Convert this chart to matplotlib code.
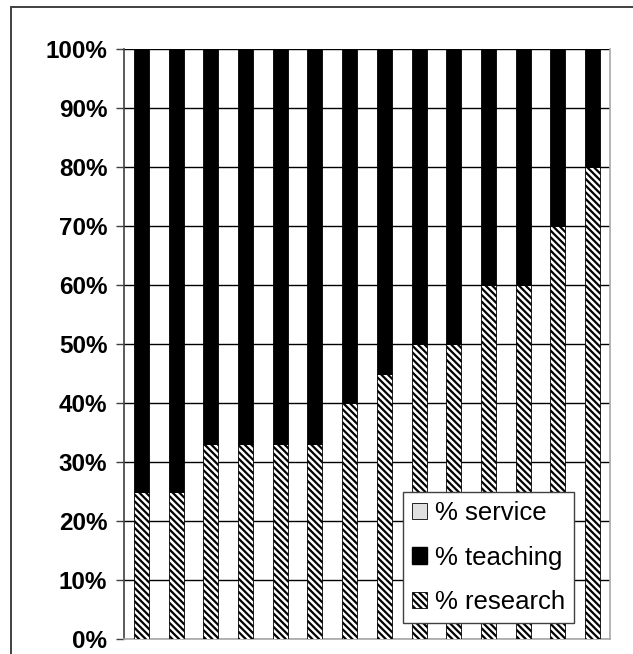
"""Stacked 100% bars: share of research / teaching / service per respondent."""
import numpy as np
import matplotlib
matplotlib.use("Agg")
import matplotlib.pyplot as plt
from matplotlib.patches import Rectangle, Patch

# ---------------------------------------------------------------------
# data (percent of time per faculty member)
# ---------------------------------------------------------------------
respondents = list(range(1, 15))
pct_research = [25, 25, 33, 33, 33, 33, 40, 45, 50, 50, 60, 60, 70, 80]
pct_teaching = [75, 75, 67, 67, 67, 67, 60, 55, 50, 50, 40, 40, 30, 20]
pct_service = [0] * 14
y_ticks = [0, 10, 20, 30, 40, 50, 60, 70, 80, 90, 100]
y_ticklabels = [f"{t}%" for t in y_ticks]

HATCH = "\\" * 5
plt.rcParams["font.family"] = ["Liberation Sans", "DejaVu Sans"]
plt.rcParams["hatch.linewidth"] = 1.6

W, H = 633, 654
fig = plt.figure(figsize=(W / 100, H / 100), dpi=100)
ax = fig.add_axes([124 / W, 1 - 639 / H, 486 / W, 590 / H])

# chart frame (runs off the right and bottom edges)
fig.add_artist(Rectangle((11 / W, -0.1), 1.2, 1 - 7 / H + 0.1,
                         transform=fig.transFigure, fill=False,
                         edgecolor="#404040", linewidth=1.4, zorder=0))

x = np.arange(len(respondents))
bw = 0.43
research = np.array(pct_research)
teaching = np.array(pct_teaching)
service = np.array(pct_service)

ax.bar(x, research, bw, color="white", edgecolor="black", hatch=HATCH,
       linewidth=0.6, zorder=3)
ax.bar(x, teaching, bw, bottom=research, color="black", edgecolor="black",
       linewidth=0.6, zorder=3)
ax.bar(x, service, bw, bottom=research + teaching, color="#e0e0e0",
       edgecolor="black", linewidth=0.6, zorder=3)

ax.set_xlim(-0.5, len(respondents) - 0.5)
ax.set_ylim(0, 100)
ax.set_yticks(y_ticks)
ax.set_yticklabels(y_ticklabels, fontsize=17.5, fontweight="bold")
ax.set_xticks([])
ax.yaxis.grid(True, color="black", linewidth=1.0, zorder=1)
ax.set_axisbelow(True)
ax.tick_params(axis="y", length=6, width=1.0, pad=6, color="#404040")

ax.spines["left"].set_color("#404040")
ax.spines["left"].set_linewidth(1.2)
for side in ("top", "right", "bottom"):
    ax.spines[side].set_color("#a8a8a8")
    ax.spines[side].set_linewidth(1.2)
ax.spines["top"].set_visible(False)

handles = [
    Patch(facecolor="#e0e0e0", edgecolor="black", linewidth=0.6, label="% service"),
    Patch(facecolor="black", edgecolor="black", label="% teaching"),
    Patch(facecolor="white", edgecolor="black", hatch=HATCH, linewidth=0.6,
          label="% research"),
]
leg = ax.legend(handles=handles, loc="lower left", bbox_to_anchor=(0.574, 0.027),
                borderaxespad=0, fontsize=18.5, frameon=True, fancybox=False,
                framealpha=1, edgecolor="#404040", handlelength=0.6,
                handleheight=0.6, handletextpad=0.3, labelspacing=0.8,
                borderpad=0.35)
leg.get_frame().set_linewidth(1.0)
leg.set_zorder(5)

fig.savefig("out.png", dpi=100)
